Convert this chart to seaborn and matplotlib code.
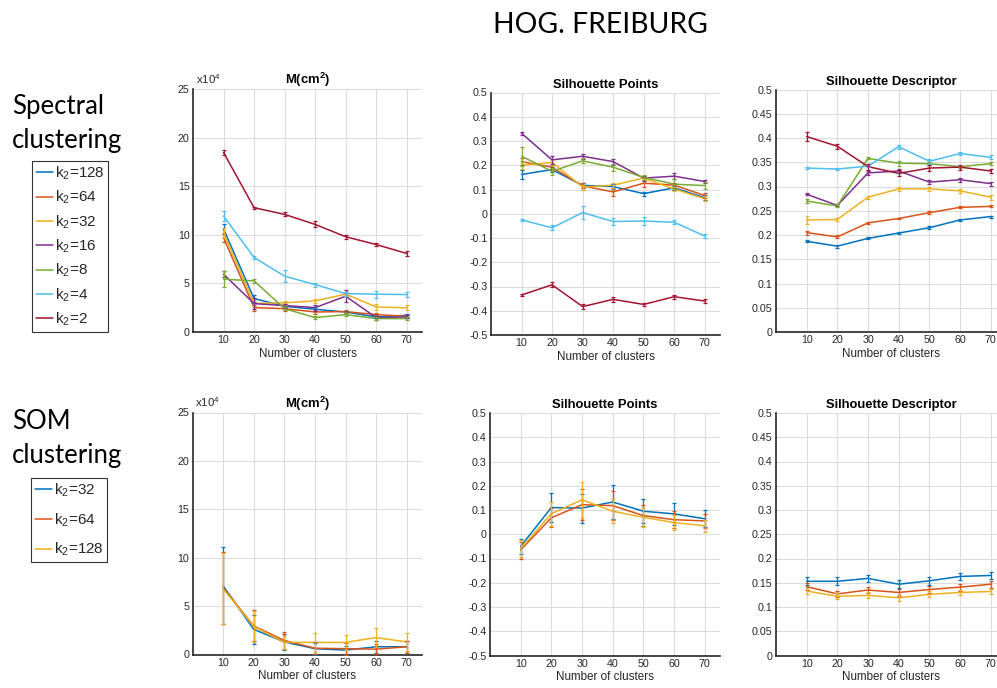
import numpy as np
import pandas as pd
import matplotlib
matplotlib.use("Agg")
import matplotlib.pyplot as plt
import seaborn as sns
from matplotlib.lines import Line2D
from matplotlib.ticker import FixedLocator, FuncFormatter

# ---------------- data ----------------
clusters = [10, 20, 30, 40, 50, 60, 70]

spec_labels = ["k$_2$=128", "k$_2$=64", "k$_2$=32", "k$_2$=16", "k$_2$=8", "k$_2$=4", "k$_2$=2"]
spec_colors = ["#0072BD", "#D95319", "#EDB120", "#7E2F8E", "#77AC30", "#4DBEEE", "#A2142F"]

# M(cm^2), in units of 1e4
spec_m_128 = [10.6, 3.44, 2.65, 2.34, 2.06, 1.55, 1.72]
spec_m_64 = [9.7, 2.51, 2.40, 2.06, 2.10, 1.79, 1.62]
spec_m_32 = [10.2, 2.95, 3.00, 3.20, 3.89, 2.58, 2.48]
spec_m_16 = [5.95, 2.92, 2.72, 2.51, 3.68, 1.48, 1.55]
spec_m_8 = [5.43, 5.26, 2.40, 1.48, 1.79, 1.38, 1.38]
spec_m_4 = [11.93, 7.67, 5.74, 4.88, 3.95, 3.89, 3.85]
spec_m_2 = [18.47, 12.79, 12.10, 11.07, 9.80, 9.00, 8.08]
spec_m_err_128 = [0.5, 0.4, 0.2, 0.2, 0.15, 0.15, 0.15]
spec_m_err_64 = [0.4, 0.3, 0.2, 0.2, 0.15, 0.15, 0.15]
spec_m_err_32 = [0.5, 0.3, 0.2, 0.2, 0.2, 0.3, 0.25]
spec_m_err_16 = [0.3, 0.6, 0.2, 0.3, 0.6, 0.2, 0.15]
spec_m_err_8 = [0.8, 0.2, 0.15, 0.15, 0.15, 0.15, 0.15]
spec_m_err_4 = [0.5, 0.15, 0.6, 0.2, 0.2, 0.35, 0.3]
spec_m_err_2 = [0.3, 0.1, 0.2, 0.3, 0.2, 0.2, 0.25]

# Silhouette points
spec_sp_128 = [0.162, 0.182, 0.117, 0.112, 0.083, 0.107, 0.066]
spec_sp_64 = [0.215, 0.192, 0.115, 0.090, 0.126, 0.118, 0.075]
spec_sp_32 = [0.200, 0.212, 0.110, 0.118, 0.147, 0.102, 0.062]
spec_sp_16 = [0.332, 0.222, 0.237, 0.215, 0.147, 0.155, 0.133]
spec_sp_8 = [0.237, 0.175, 0.218, 0.192, 0.150, 0.122, 0.116]
spec_sp_4 = [-0.025, -0.058, 0.005, -0.032, -0.030, -0.035, -0.092]
spec_sp_2 = [-0.335, -0.293, -0.383, -0.353, -0.374, -0.342, -0.360]
spec_sp_err_128 = [0.02, 0.01, 0.01, 0.01, 0.008, 0.008, 0.01]
spec_sp_err_64 = [0.015, 0.01, 0.01, 0.015, 0.015, 0.01, 0.01]
spec_sp_err_32 = [0.015, 0.01, 0.01, 0.01, 0.01, 0.01, 0.01]
spec_sp_err_16 = [0.006, 0.015, 0.01, 0.012, 0.01, 0.012, 0.006]
spec_sp_err_8 = [0.04, 0.015, 0.01, 0.015, 0.01, 0.02, 0.015]
spec_sp_err_4 = [0.005, 0.01, 0.025, 0.015, 0.015, 0.008, 0.01]
spec_sp_err_2 = [0.006, 0.01, 0.01, 0.01, 0.008, 0.008, 0.008]

# Silhouette descriptor
spec_sd_128 = [0.187, 0.177, 0.193, 0.204, 0.215, 0.231, 0.238]
spec_sd_64 = [0.205, 0.196, 0.225, 0.234, 0.246, 0.257, 0.259]
spec_sd_32 = [0.231, 0.232, 0.278, 0.295, 0.295, 0.291, 0.278]
spec_sd_16 = [0.284, 0.261, 0.328, 0.332, 0.309, 0.314, 0.306]
spec_sd_8 = [0.270, 0.260, 0.358, 0.348, 0.347, 0.341, 0.347]
spec_sd_4 = [0.338, 0.336, 0.342, 0.382, 0.352, 0.368, 0.360]
spec_sd_2 = [0.403, 0.383, 0.341, 0.327, 0.338, 0.340, 0.332]
spec_sd_err_128 = [0.002, 0.003, 0.002, 0.002, 0.003, 0.002, 0.002]
spec_sd_err_64 = [0.004, 0.003, 0.002, 0.002, 0.003, 0.002, 0.002]
spec_sd_err_32 = [0.008, 0.004, 0.003, 0.005, 0.005, 0.004, 0.005]
spec_sd_err_16 = [0.002, 0.002, 0.004, 0.004, 0.004, 0.004, 0.004]
spec_sd_err_8 = [0.004, 0.003, 0.002, 0.005, 0.003, 0.002, 0.003]
spec_sd_err_4 = [0.002, 0.003, 0.002, 0.004, 0.005, 0.003, 0.004]
spec_sd_err_2 = [0.010, 0.005, 0.006, 0.006, 0.006, 0.005, 0.005]

som_labels = ["k$_2$=32", "k$_2$=64", "k$_2$=128"]
som_colors = ["#0072BD", "#D95319", "#EDB120"]

som_m_32 = [7.1, 2.6, 1.3, 0.6, 0.45, 0.8, 0.8]
som_m_64 = [6.9, 2.95, 1.45, 0.65, 0.6, 0.55, 0.8]
som_m_128 = [6.8, 2.9, 1.25, 1.25, 1.25, 1.75, 1.3]
som_m_err_32 = [4.0, 1.5, 0.8, 0.6, 0.45, 0.6, 0.6]
som_m_err_64 = [3.7, 1.6, 0.9, 0.6, 0.6, 0.5, 0.6]
som_m_err_128 = [3.7, 1.6, 0.7, 0.95, 0.8, 1.0, 0.9]

som_sp_32 = [-0.050, 0.110, 0.108, 0.133, 0.095, 0.084, 0.064]
som_sp_64 = [-0.065, 0.068, 0.122, 0.118, 0.077, 0.060, 0.055]
som_sp_128 = [-0.060, 0.085, 0.142, 0.095, 0.070, 0.048, 0.035]
som_sp_err_32 = [0.030, 0.060, 0.060, 0.070, 0.050, 0.045, 0.035]
som_sp_err_64 = [0.035, 0.040, 0.065, 0.060, 0.045, 0.035, 0.030]
som_sp_err_128 = [0.035, 0.050, 0.075, 0.050, 0.040, 0.030, 0.025]

som_sd_32 = [0.153, 0.153, 0.159, 0.147, 0.154, 0.163, 0.165]
som_sd_64 = [0.142, 0.127, 0.135, 0.130, 0.136, 0.141, 0.147]
som_sd_128 = [0.133, 0.122, 0.124, 0.119, 0.126, 0.130, 0.132]
som_sd_err_32 = [0.008, 0.008, 0.008, 0.008, 0.008, 0.008, 0.008]
som_sd_err_64 = [0.007, 0.007, 0.007, 0.007, 0.007, 0.007, 0.007]
som_sd_err_128 = [0.006, 0.006, 0.006, 0.006, 0.006, 0.006, 0.006]

spec_m = [spec_m_128, spec_m_64, spec_m_32, spec_m_16, spec_m_8, spec_m_4, spec_m_2]
spec_m_err = [spec_m_err_128, spec_m_err_64, spec_m_err_32, spec_m_err_16, spec_m_err_8, spec_m_err_4, spec_m_err_2]
spec_sp = [spec_sp_128, spec_sp_64, spec_sp_32, spec_sp_16, spec_sp_8, spec_sp_4, spec_sp_2]
spec_sp_err = [spec_sp_err_128, spec_sp_err_64, spec_sp_err_32, spec_sp_err_16, spec_sp_err_8, spec_sp_err_4, spec_sp_err_2]
spec_sd = [spec_sd_128, spec_sd_64, spec_sd_32, spec_sd_16, spec_sd_8, spec_sd_4, spec_sd_2]
spec_sd_err = [spec_sd_err_128, spec_sd_err_64, spec_sd_err_32, spec_sd_err_16, spec_sd_err_8, spec_sd_err_4, spec_sd_err_2]
som_m = [som_m_32, som_m_64, som_m_128]
som_m_err = [som_m_err_32, som_m_err_64, som_m_err_128]
som_sp = [som_sp_32, som_sp_64, som_sp_128]
som_sp_err = [som_sp_err_32, som_sp_err_64, som_sp_err_128]
som_sd = [som_sd_32, som_sd_64, som_sd_128]
som_sd_err = [som_sd_err_32, som_sd_err_64, som_sd_err_128]

# ---------------- style ----------------
sns.set_theme(style="whitegrid")
plt.rcParams["font.family"] = ["Liberation Sans", "DejaVu Sans"]
plt.rcParams["mathtext.fontset"] = "custom"
plt.rcParams["mathtext.rm"] = "Liberation Sans"
plt.rcParams["mathtext.it"] = "Liberation Sans"
plt.rcParams["mathtext.bf"] = "Liberation Sans:bold"

W, H = 997, 688
fig = plt.figure(figsize=(W / 100, H / 100), dpi=100)
fig.patch.set_facecolor("white")

def rect(l, t, r, b):
    return [l / W, 1 - b / H, (r - l) / W, (b - t) / H]

AX_COL = "#262626"
TXT_COL = "#262626"

def style_axes(ax, ylim, yticks, title, mult=False):
    ax.set_facecolor("white")
    ax.set_xlim(0, 75)
    ax.set_ylim(*ylim)
    ax.xaxis.set_major_locator(FixedLocator(clusters))
    ax.yaxis.set_major_locator(FixedLocator(yticks))
    ax.yaxis.set_major_formatter(FuncFormatter(lambda v, p: ("%g" % round(v, 3)) if abs(v) > 1e-9 else "0"))
    ax.grid(True, color="#dcdcdc", linewidth=0.8)
    for s in ["top", "right"]:
        ax.spines[s].set_visible(False)
    for s in ["left", "bottom"]:
        ax.spines[s].set_visible(True)
        ax.spines[s].set_color(AX_COL)
        ax.spines[s].set_linewidth(1.2)
    ax.tick_params(axis="both", direction="in", length=3, width=0.8, colors=AX_COL,
                   labelsize=7.7, labelcolor=TXT_COL, pad=2.5)
    ax.set_xlabel("Number of clusters", fontsize=8.4, color=TXT_COL, labelpad=1.5)
    ax.set_ylabel("")
    ax.set_title(title, fontsize=9.4, fontweight="bold", color="black", pad=3.5)
    if mult:
        ax.text(0.012, 1.014, "x10$^4$", transform=ax.transAxes, ha="left", va="bottom",
                fontsize=8.2, color=TXT_COL)

def draw_panel(ax, series, errs, labels, colors):
    rows = []
    for lab, vals in zip(labels, series):
        for c, v in zip(clusters, vals):
            rows.append({"clusters": c, "value": v, "k2": lab})
    df = pd.DataFrame(rows)
    sns.lineplot(data=df, x="clusters", y="value", hue="k2", hue_order=labels,
                 palette=colors, legend=False, ax=ax, linewidth=1.1, errorbar=None)
    for vals, e, col in zip(series, errs, colors):
        ax.errorbar(clusters, vals, yerr=e, fmt="none", ecolor=col, elinewidth=0.9,
                    capsize=1.6, capthick=0.9, zorder=3)

# top row
ax1 = fig.add_axes(rect(193, 89, 422, 332))
draw_panel(ax1, spec_m, spec_m_err, spec_labels, spec_colors)
style_axes(ax1, (0, 25), [0, 5, 10, 15, 20, 25], "M(cm$^\\mathbf{2}$)", mult=True)

ax2 = fig.add_axes(rect(491, 92.5, 720, 335))
draw_panel(ax2, spec_sp, spec_sp_err, spec_labels, spec_colors)
style_axes(ax2, (-0.5, 0.5), list(np.round(np.arange(-0.5, 0.51, 0.1), 2)), "Silhouette Points")

ax3 = fig.add_axes(rect(776, 89.5, 1006, 332))
draw_panel(ax3, spec_sd, spec_sd_err, spec_labels, spec_colors)
style_axes(ax3, (0, 0.5), list(np.round(np.arange(0, 0.51, 0.05), 2)), "Silhouette Descriptor")

# bottom row
ax4 = fig.add_axes(rect(192.5, 412.5, 422, 654.5))
draw_panel(ax4, som_m, som_m_err, som_labels, som_colors)
style_axes(ax4, (0, 25), [0, 5, 10, 15, 20, 25], "M(cm$^\\mathbf{2}$)", mult=True)

ax5 = fig.add_axes(rect(490, 413, 720, 655.5))
draw_panel(ax5, som_sp, som_sp_err, som_labels, som_colors)
style_axes(ax5, (-0.5, 0.5), list(np.round(np.arange(-0.5, 0.51, 0.1), 2)), "Silhouette Points")

ax6 = fig.add_axes(rect(776, 413, 1006, 655.5))
draw_panel(ax6, som_sd, som_sd_err, som_labels, som_colors)
style_axes(ax6, (0, 0.5), list(np.round(np.arange(0, 0.51, 0.05), 2)), "Silhouette Descriptor")

# ---------------- annotations ----------------
side_font = ["Lato", "DejaVu Sans"]
fig.text(600 / W, 1 - 33.3 / H, "HOG. FREIBURG", ha="center", va="baseline",
         fontsize=20.3, family=side_font, color="black")
fig.text(12 / W, 1 - 114.3 / H, "Spectral", ha="left", va="baseline", fontsize=18.5,
         family=side_font, color="black")
fig.text(12 / W, 1 - 147.7 / H, "clustering", ha="left", va="baseline", fontsize=18.5,
         family=side_font, color="black")
fig.text(12 / W, 1 - 429.3 / H, "SOM", ha="left", va="baseline", fontsize=18.5,
         family=side_font, color="black")
fig.text(12 / W, 1 - 462.7 / H, "clustering", ha="left", va="baseline", fontsize=18.5,
         family=side_font, color="black")

def make_legend(labels, colors, x, y, spacing):
    handles = [Line2D([], [], color=c, linewidth=1.1) for c in colors]
    leg = fig.legend(handles, labels, loc="upper left", bbox_to_anchor=(x / W, 1 - y / H),
                     bbox_transform=fig.transFigure, frameon=True, fancybox=False,
                     fontsize=11, handlelength=1.1, handletextpad=0.15,
                     labelspacing=spacing, borderpad=0.25, borderaxespad=0)
    fr = leg.get_frame()
    fr.set_edgecolor("#333333")
    fr.set_linewidth(0.8)
    fr.set_facecolor("white")
    fr.set_alpha(1)
    return leg

make_legend(spec_labels, spec_colors, 32, 161, 0.45)
make_legend(som_labels, som_colors, 31, 478, 0.8)

fig.savefig("out.png", dpi=100, facecolor="white")
